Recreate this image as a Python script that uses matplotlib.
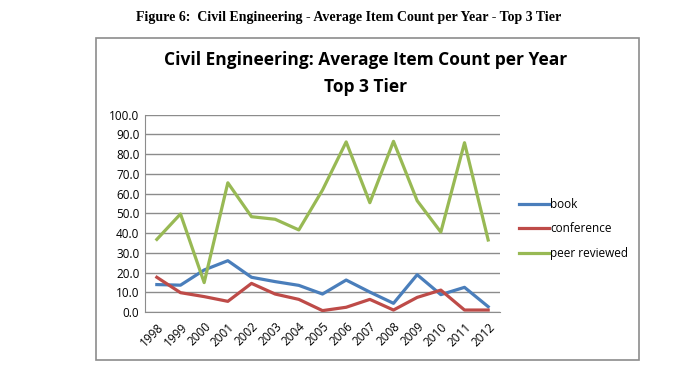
import matplotlib
matplotlib.use('Agg')
import matplotlib.pyplot as plt
from matplotlib.patches import Rectangle

years = ['1998', '1999', '2000', '2001', '2002', '2003', '2004', '2005',
         '2006', '2007', '2008', '2009', '2010', '2011', '2012']
book = [13.9, 13.6, 21.3, 26.0, 17.6, 15.4, 13.5, 9.1, 16.2, 10.1, 4.4, 18.9, 8.8, 12.5, 2.7]
conference = [17.6, 9.8, 7.8, 5.4, 14.5, 9.1, 6.4, 0.7, 2.4, 6.4, 1.0, 7.4, 11.1, 1.0, 1.0]
peer_reviewed = [36.8, 49.7, 14.9, 65.5, 48.3, 47.0, 41.6, 61.8, 86.2, 55.4, 86.5, 56.4, 40.5, 85.8, 36.5]
yticks = [0, 10, 20, 30, 40, 50, 60, 70, 80, 90, 100]

fig = plt.figure(figsize=(7, 3.85), dpi=100)
W, H = 700, 385

# figure caption above the chart
fig.text(349 / W, 1 - 17 / H, 'Figure 6:  Civil Engineering - Average Item Count per Year - Top 3 Tier',
         ha='center', va='center', family='Liberation Serif', weight='bold', fontsize=10)

# chart frame
fig.patches.append(Rectangle((95.5 / W, 1 - 359.5 / H), (639 - 95.5) / W, (359.5 - 37.5) / H,
                             transform=fig.transFigure, fill=False, edgecolor='#8c8c8c', lw=1.2))

fig.text(366 / W, 1 - 60 / H, 'Civil Engineering: Average Item Count per Year',
         ha='center', va='center', family='Open Sans', weight='bold', fontsize=12.5)
fig.text(366 / W, 1 - 87 / H, 'Top 3 Tier',
         ha='center', va='center', family='Open Sans', weight='bold', fontsize=12.5)

ax = fig.add_axes([145 / W, 1 - 312 / H, (500 - 145) / W, (312 - 114.7) / H])
x = range(len(years))
ax.plot(x, book, color='#4a7ebb', lw=2.3, label='book')
ax.plot(x, conference, color='#be4b48', lw=2.3, label='conference')
ax.plot(x, peer_reviewed, color='#98b954', lw=2.3, label='peer reviewed')

ax.set_xlim(-0.5, len(years) - 0.5)
ax.set_ylim(0, 100)
ax.set_yticks(yticks)
ax.set_yticklabels(['%.1f' % v for v in yticks], family='Open Sans', fontsize=8.5)
ax.set_xticks(list(x))
ax.set_xticklabels(years, rotation=45, ha='right', rotation_mode='anchor',
                   family='Open Sans', fontsize=8.5)
ax.tick_params(axis='both', length=0, pad=4)
ax.tick_params(axis='x', pad=6)
ax.grid(axis='y', color='#8c8c8c', lw=1)
ax.set_axisbelow(True)
for s in ['top', 'right']:
    ax.spines[s].set_visible(False)
for s in ['left', 'bottom']:
    ax.spines[s].set_color('#8c8c8c')

leg = fig.legend(loc='center left', bbox_to_anchor=(508 / W, 1 - 229 / H), frameon=False,
                 prop={'family': 'Open Sans', 'size': 8.5}, handlelength=2.6,
                 handletextpad=0.05, labelspacing=0.95)

fig.savefig('out.png', dpi=100)
